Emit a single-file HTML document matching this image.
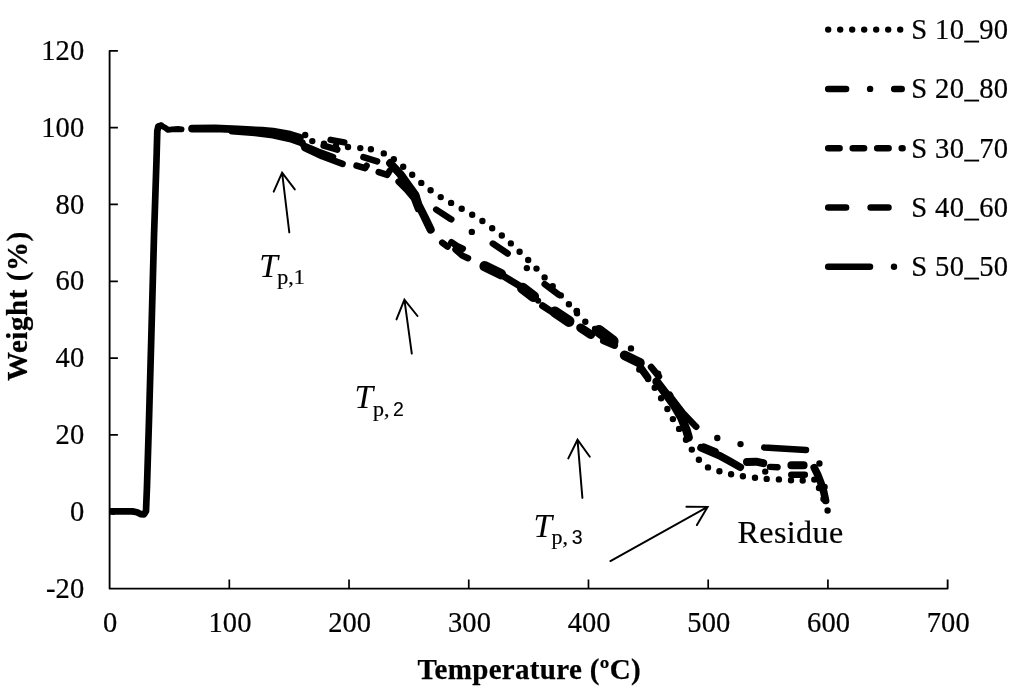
<!DOCTYPE html>
<html lang="en"><head><meta charset="utf-8"><title>TGA curves</title>
<style>
html,body{margin:0;padding:0;background:#fff;}
body{width:1024px;height:695px;overflow:hidden;}
svg{display:block;}
text{font-family:"Liberation Serif","DejaVu Serif",serif;fill:#000;stroke:#000;stroke-width:0.22px;}
.tk{font-size:28.5px;letter-spacing:0.1px;}
.lg{font-size:28.6px;letter-spacing:0.4px;}
.ttl{font-size:29px;font-weight:bold;letter-spacing:0.33px;stroke-width:0.25px;}
.ax{stroke:#000;stroke-width:1.85;fill:none;}
.ar{stroke:#000;stroke-width:1.95;fill:none;stroke-linecap:round;stroke-linejoin:miter;}
.s{stroke:#000;fill:none;stroke-linecap:round;stroke-linejoin:round;stroke-width:6.5;}
.d{stroke-width:6.4;}
.T{font-size:33.4px;font-style:italic;stroke-width:0.05px;}
.sub{font-size:22px;}
.sans{font-family:"Liberation Sans","DejaVu Sans",sans-serif;font-size:19.5px;stroke-width:0.1px;}
</style></head><body>
<svg width="1024" height="695" viewBox="0 0 1024 695">
<rect width="1024" height="695" fill="#fff"/>
<path class="ax" style="stroke-linejoin:round" d="M117.9,50.83 H109.6 V588.57 H947.64 V579.4"/>
<path class="ax" style="stroke-width:1.7" d="M109.6,511.75 h8.3M109.6,434.93 h8.3M109.6,358.11 h8.3M109.6,281.29 h8.3M109.6,204.47 h8.3M109.6,127.65 h8.3M229.32,588.57 V579.4M349.04,588.57 V579.4M468.76,588.57 V579.4M588.48,588.57 V579.4M708.20,588.57 V579.4M827.92,588.57 V579.4"/>
<text class="tk" x="84.3" y="597.6" text-anchor="end">-20</text>
<text class="tk" x="84.3" y="520.8" text-anchor="end">0</text>
<text class="tk" x="84.3" y="443.9" text-anchor="end">20</text>
<text class="tk" x="84.3" y="367.1" text-anchor="end">40</text>
<text class="tk" x="84.3" y="290.3" text-anchor="end">60</text>
<text class="tk" x="84.3" y="213.5" text-anchor="end">80</text>
<text class="tk" x="84.3" y="136.6" text-anchor="end">100</text>
<text class="tk" x="84.3" y="59.8" text-anchor="end">120</text>
<text class="tk" x="110.3" y="632.4" text-anchor="middle">0</text>
<text class="tk" x="230.0" y="632.4" text-anchor="middle">100</text>
<text class="tk" x="349.7" y="632.4" text-anchor="middle">200</text>
<text class="tk" x="469.5" y="632.4" text-anchor="middle">300</text>
<text class="tk" x="589.2" y="632.4" text-anchor="middle">400</text>
<text class="tk" x="708.9" y="632.4" text-anchor="middle">500</text>
<text class="tk" x="828.6" y="632.4" text-anchor="middle">600</text>
<text class="tk" x="948.3" y="632.4" text-anchor="middle">700</text>
<text class="ttl" x="529.2" y="678.9" text-anchor="middle">Temperature (ºC)</text>
<text class="ttl" style="letter-spacing:0.55px" transform="translate(27.4,306.2) rotate(-90)" text-anchor="middle">Weight (%)</text>
<path class="s d" d="M828.2,29.6 H901.7" stroke-dasharray="0 12"/>
<text class="lg" x="911.2" y="38.9">S 10_90</text>
<path class="s" d="M828.2,88.9 H901.7" stroke-dasharray="17.9 48.1"/>
<path class="s d" d="M870.1,88.9 h0"/>
<text class="lg" x="911.2" y="98.2">S 20_80</text>
<path class="s" d="M828.2,148.2 H902.6" stroke-dasharray="11.4 13.1"/>
<text class="lg" x="911.2" y="157.5">S 30_70</text>
<path class="s" d="M828.2,207.5 H901.7" stroke-dasharray="17.9 24.5"/>
<text class="lg" x="911.2" y="216.8">S 40_60</text>
<path class="s" d="M828.2,266.7 h41.8"/>
<path class="s d" d="M894.0,266.7 h0"/>
<text class="lg" x="911.2" y="276.0">S 50_50</text>
<path class="s" style="stroke-width:6.7" d="M113.6,511.4 L132.5,511.4 L137.0,512.2 L141.0,514.2 L144.0,514.4 L146.0,511.0 L147.0,486.0 L149.0,420.0 L151.5,330.0 L154.0,236.0 L156.5,160.0 L157.3,131.0 L158.3,126.5 L161.0,125.6"/>
<path class="s" style="stroke-width:5.8" d="M161.0,125.6 L165.0,127.6 L168.0,129.8 L172.0,129.4 L178.0,129.0 L181.6,129.4"/>
<path d="M109.2,511.4 H115" stroke="#000" stroke-width="6.7" fill="none"/>
<path class="s" style="stroke-width:7.6" d="M192.0,128.6 L215.0,128.4 L238.0,129.4 L262.0,130.6 L273.0,131.6 L290.0,134.6 L300.0,137.6"/>
<path class="s" style="stroke-width:7.4" d="M232.0,130.8 L255.0,132.6 L273.0,134.8 L290.0,138.6 L302.0,142.8"/>
<path class="s d" d="M305.2,135.0h0M312.3,141.1h0M324.0,143.6h0M336.0,145.6h0M348.0,147.0h0M360.3,148.1h0M370.9,149.3h0M383.8,153.4h0M393.8,159.3h0M403.2,166.8h0M412.2,174.8h0M421.3,182.9h0M430.6,190.3h0M440.7,197.1h0M451.1,202.9h0M461.7,208.8h0M472.2,214.8h0M482.4,221.0h0M492.2,228.2h0M501.8,235.5h0M510.8,243.4h0M519.6,251.7h0M528.2,260.0h0M536.5,268.6h0M544.6,277.4h0M552.7,286.2h0M560.8,295.4h0M568.9,304.2h0M576.8,311.0h0M577.0,313.2h0M585.3,321.7h0M595.0,329.0h0M604.6,336.4h0M614.8,342.9h0M631.0,348.4h0M639.3,369.6h0M648.1,379.0h0M654.7,387.8h0M661.1,398.2h0M667.4,409.0h0M672.9,419.1h0M679.1,428.9h0M686.0,439.7h0M691.8,449.6h0M698.9,459.7h0M708.0,467.4h0M719.4,471.2h0M731.1,474.3h0M742.9,476.3h0M755.0,477.7h0M766.7,478.9h0M778.9,479.4h0M791.0,480.2h0M802.7,480.5h0M814.3,479.6h0M819.0,488.0h0M823.5,499.0h0M827.6,510.5h0"/>
<path class="s" d="M304.5,148.0 L322.0,156.2 L342.6,163.9M303.5,145.4 L318.0,151.6 L333.0,157.0M356.5,165.6 L365.0,168.2 L366.6,165.8M378.7,172.1 L387.2,174.9 L389.8,170.6M323.6,145.6 L337.3,149.6M363.4,157.2 L377.1,161.3M330.6,139.9 L344.3,142.4"/>
<path class="s" style="stroke-width:8.2" d="M390.2,163.2 L400.2,174.0 L408.4,185.5 L415.3,195.0 L418.3,204.5 L424.6,217.0 L430.6,229.6"/>
<path class="s" d="M398.6,181.6 L406.4,189.4 L414.0,198.5 L418.0,209.0"/>
<path class="s" style="stroke-width:10.4" d="M484.6,266.2 L501.0,274.2"/>
<path class="s" style="stroke-width:7" d="M501.0,274.6 L519.0,285.6"/>
<path class="s" style="stroke-width:11" d="M522.5,288.2 L533.6,296.6"/>
<path class="s" style="stroke-width:6" d="M538.2,300.8 L538.2,300.8"/>
<path class="s" style="stroke-width:7" d="M542.6,305.8 L551.6,311.6"/>
<path class="s" style="stroke-width:11" d="M555.0,312.0 L569.0,321.4"/>
<path class="s" style="stroke-width:8.8" d="M580.6,327.8 L590.8,334.6"/>
<path class="s" style="stroke-width:12" d="M599.0,331.0 L612.6,341.2"/>
<path class="s" style="stroke-width:9.6" d="M624.6,355.4 L640.0,362.8"/>
<path class="s" style="stroke-width:7" d="M603.5,340.8 L614.6,345.4"/>
<path class="s" style="stroke-width:6.8" d="M651.2,367.2 L658.8,376.4"/>
<path class="s" style="stroke-width:7.4" d="M640.5,367.5 L647.6,377.4"/>
<path class="s" style="stroke-width:8.6" d="M656.6,381.6 L665.0,392.6 L673.6,404.4 L681.3,417.6 L686.4,430.0 L688.6,437.4"/>
<path class="s" d="M442.2,242.6 L447.6,246.6M451.4,242.2 L457.0,246.0 L462.8,248.6M455.5,249.5 L462.3,255.6 L468.0,258.2"/>
<path class="s" style="stroke-width:7.6" d="M701.0,447.8 L719.0,455.4 L730.0,461.4 L740.3,467.2M704.0,447.2 L715.0,451.8"/>
<path class="s" style="stroke-width:8" d="M747.0,461.9 L756.0,461.7 L763.2,463.2M791.4,465.3 L803.6,465.3"/>
<path class="s d" d="M765.2,471.6 L765.2,471.6M770.0,466.9 L777.6,467.2"/>
<path class="s" d="M791.3,474.7 L804.8,474.7"/>
<path class="s" style="stroke-width:7.6" d="M814.2,467.6 L817.5,474.2 L820.8,482.6 L823.8,492.0 L825.6,500.5"/>
<path class="s" d="M410.0,186.5 L416.5,196.5 L423.0,202.5 L436.2,209.6 L450.6,218.9 L471.6,231.8 L492.1,243.1 L507.9,253.7 L526.5,267.8 L544.0,283.7 L560.4,296.0 L576.0,310.5 L592.0,327.0" stroke-dasharray="17.9 48.1" stroke-dashoffset="30.2"/>
<path class="s d" d="M410.0,186.5 L416.5,196.5 L423.0,202.5 L436.2,209.6 L450.6,218.9 L471.6,231.8 L492.1,243.1 L507.9,253.7 L526.5,267.8 L544.0,283.7 L560.4,296.0 L576.0,310.5 L592.0,327.0" stroke-dasharray="0 66" stroke-dashoffset="54.2"/>
<path class="s" d="M650.0,363.6 L661.8,378.3 L671.3,397.6 L683.0,413.0 L695.8,426.4 L704.0,433.0 L715.9,437.7 L739.1,443.9 L764.3,447.5 L807.3,450.2 L817.5,451.0 L819.1,462.2 L823.0,478.0 L826.0,495.0 L827.7,510.6" stroke-dasharray="41.8 72.2" stroke-dashoffset="77.0"/>
<path class="s d" d="M650.0,363.6 L661.8,378.3 L671.3,397.6 L683.0,413.0 L695.8,426.4 L704.0,433.0 L715.9,437.7 L739.1,443.9 L764.3,447.5 L807.3,450.2 L817.5,451.0 L819.1,462.2 L823.0,478.0 L826.0,495.0 L827.7,510.6" stroke-dasharray="0 24 0 90" stroke-dashoffset="11.0"/>
<path class="ar" d="M289.3,232.4 L282.1,172.7 M273.7,191.7 L282.1,172.7 L294.8,189.4"/>
<path class="ar" d="M411.8,353.6 L404.4,299.7 M396.5,319.4 L404.4,299.7 L417.5,316"/>
<path class="ar" d="M582.4,497.9 L577.5,439.7 M568.3,458.4 L577.5,439.7 L589.8,456.8"/>
<path class="ar" d="M610.4,561.1 L707.6,506.9 M686.4,506.7 L707.6,506.9 L696.9,525.1"/>
<text class="T" x="259.3" y="276.5">T</text><text class="sub" x="277.2" y="284">p,1</text>
<text class="T" x="354.6" y="408.1">T</text><text class="sub" x="373" y="415.5">p,<tspan class="sans" dx="3.6">2</tspan></text>
<text class="T" x="533.6" y="537.3">T</text><text class="sub" x="551.6" y="544.4">p,<tspan class="sans" dx="3.6">3</tspan></text>
<text x="737.6" y="543" style="font-size:32px;letter-spacing:0.4px">Residue</text>
</svg></body></html>
